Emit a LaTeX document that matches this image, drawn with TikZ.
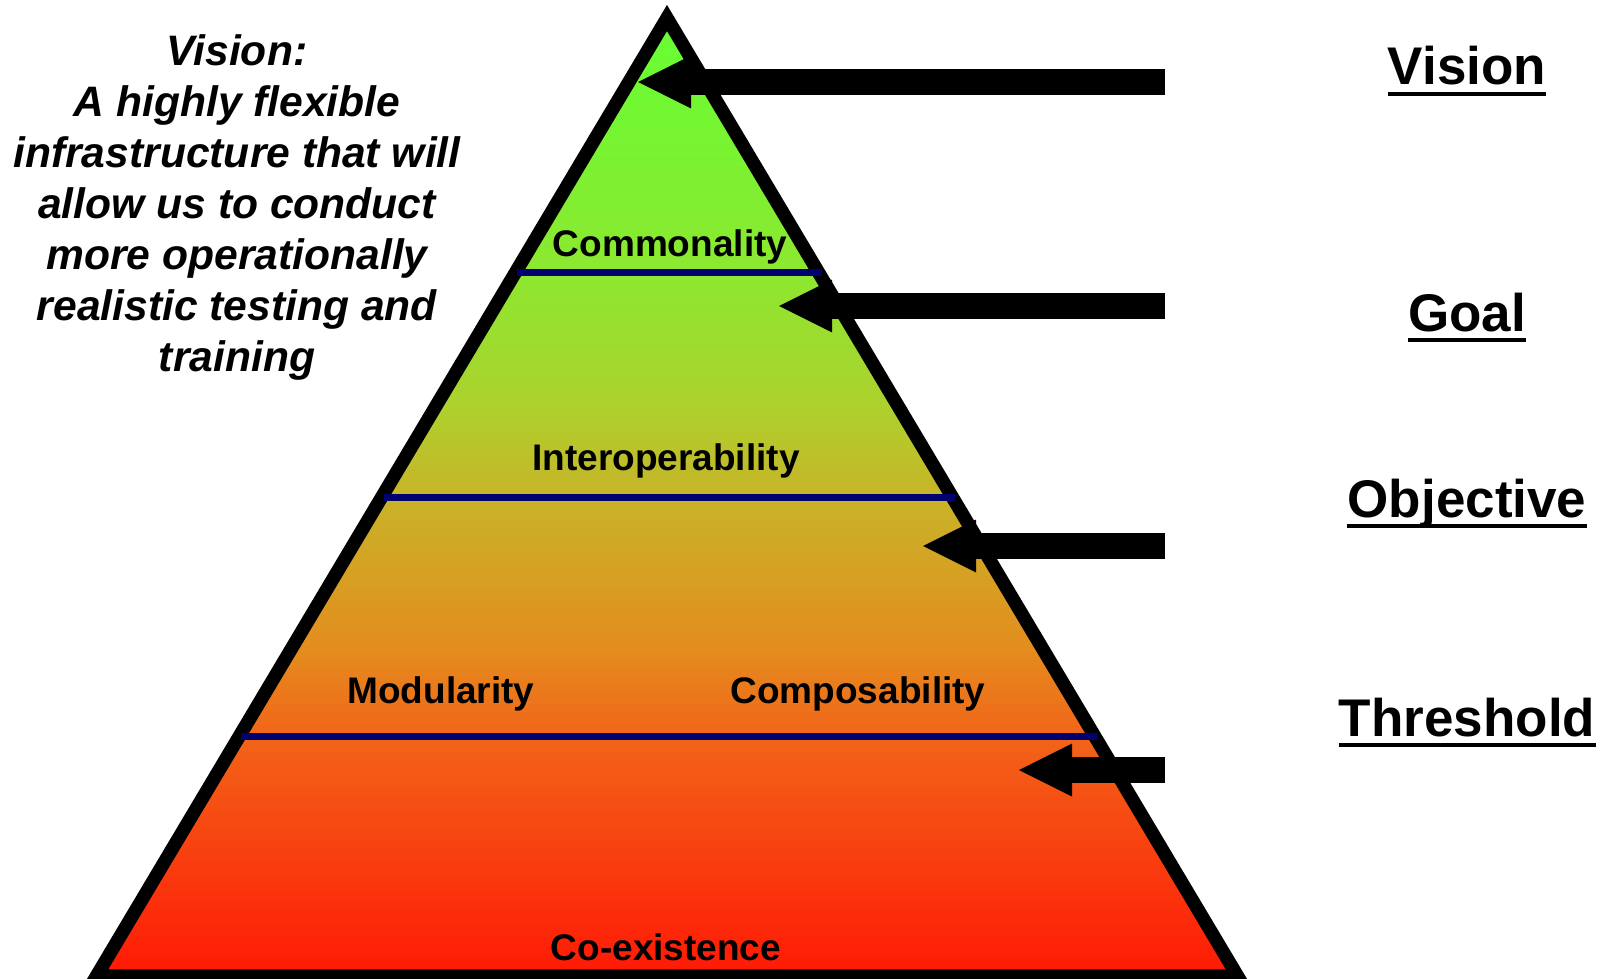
\documentclass[tikz,border=0pt]{standalone}
\usepackage{fontspec}
\setmainfont{Liberation Sans}
\usetikzlibrary{arrows.meta,calc}

\definecolor{levelline}{RGB}{0,0,110}
\definecolor{lvA}{RGB}{255,25,5}
\definecolor{lvB}{RGB}{242,100,25}
\definecolor{lvC}{RGB}{228,140,30}
\definecolor{lvD}{RGB}{200,180,40}
\definecolor{lvE}{RGB}{172,210,45}
\definecolor{lvF}{RGB}{140,232,48}
\definecolor{lvG}{RGB}{102,255,51}
\pgfdeclareverticalshading{pyramidfill}{100bp}{color(0bp)=(lvA); color(25bp)=(lvA);
  color(37.5bp)=(lvB); color(42bp)=(lvC); color(50bp)=(lvD); color(55bp)=(lvE);
  color(61.8bp)=(lvF); color(75bp)=(lvG); color(100bp)=(lvG)}

\tikzset{
  layername/.style={font=\bfseries\fontsize{18.5}{22}\selectfont, anchor=base, inner sep=0pt},
  levelname/.style={font=\bfseries\fontsize{26.5}{32}\selectfont, anchor=base, inner sep=0pt},
  underbar/.style={line width=2.2pt},
  divider/.style={draw=levelline, line width=3.5pt},
  blockarrow/.style={line width=13pt, -{Triangle[length=26.5pt,width=26.5pt,line width=0pt]}}
}

\begin{document}
\begin{tikzpicture}[x=0.5pt,y=-0.5pt]
\useasboundingbox (0,0) rectangle (1600,979);

% pyramid
\coordinate (top) at (667,18);
\coordinate (bl) at (96.5,976);
\coordinate (br) at (1237.5,976);
\shade[shading=pyramidfill] (top) -- (bl) -- (br) -- cycle;
\draw[line width=6.7pt, line join=miter] (top) -- (bl) -- (br) -- cycle;

% level lines
\foreach \f in {0.266,0.5,0.75}
  \draw[divider] ($(top)!\f!(bl)+(2,0)$) -- ($(top)!\f!(br)+(3,0)$);

% layer labels
\node[layername] (common) at (670,256) {Commonality};
\node[layername] (interop) at (666,470) {Interoperability};
\node[layername] (modular) at (441,703) {Modularity};
\node[layername] (compos) at (858,703) {Composability};
\node[layername] (coexist) at (666,960) {Co-existence};

% vision statement
\node[font=\bfseries\itshape\fontsize{21.3}{25.5}\selectfont, align=center] (statement) at (237,207)
  {Vision:\\A highly flexible\\infrastructure that will\\allow us to conduct\\more operationally\\realistic testing and\\training};

% levels on the right
\foreach \name/\txt/\yy in {vision/Vision/85, goal/Goal/331, objective/Objective/517, threshold/Threshold/736} {
  \node[levelname] (\name) at (1467,\yy) {\txt};
  \draw[underbar] ($(\name.base west)+(0,9)$) -- ($(\name.base east)+(0,9)$);
}

% arrows
\foreach \name/\yy/\xx in {vision/82/638, goal/306/779, objective/546/923, threshold/770/1019} {
  \coordinate (\name-tail) at (1165,\yy);
  \coordinate (\name-tip) at (\xx,\yy);
  \draw[blockarrow] (\name-tail) -- (\name-tip);
}
\end{tikzpicture}
\end{document}
